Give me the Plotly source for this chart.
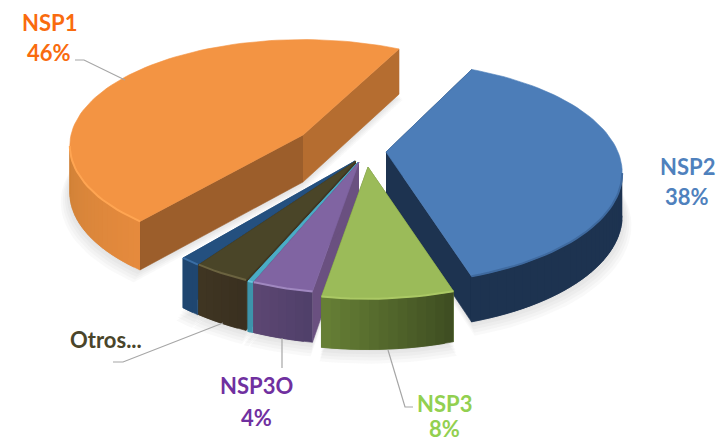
import numpy as np
import plotly.graph_objects as go

# valores, en el orden de los sectores (sentido horario)
categories = ["NSP2", "NSP3", "NSP3O", "Otros A", "Otros...", "Otros B", "NSP1"]
shares = [38.0, 7.5, 3.5, 0.3, 3.3, 1.2, 46.2]

# estilo de cada sector
TOP = ["#4c7db8", "#9bbb59", "#8064a2", "#4bacc6", "#4a4528", "#24507f", "#f39443"]
RIM = ["#3f6a9f", "#abc965", "#a088c0", "#6cc4dc", "#6b6340", "#3a6ea5", "#ffa552"]
WALL_L = ["#1d3350", "#667f35", "#5c4672", "#3d94ab", "#3f3522", "#1f4670", "#e58a3d"]
WALL_R = ["#1d3350", "#3f4e22", "#50406a", "#3d94ab", "#3a3020", "#1f4670", "#d08238"]
# color de las dos paredes interiores (lado inicial, lado final)
SIDE = [("#1d3350", "#1d3350"), ("#5c7530", "#5c7530"), ("#6a5080", "#6a5080"),
        ("#3d94ab", "#3d94ab"), ("#3f3522", "#3f3522"), ("#1f4670", "#1f4670"),
        ("#9c5e2b", "#b56d30")]
APEX = [(386, 152), (368, 167), (359, 162), (358, 162), (356, 161), (355, 161), (303, 135)]
DEPTH = [42, 47, 47, 47, 47, 47, 47]
# el sector NSP1 esta algo girado y con menos perspectiva en el original
TWIST = [0, 0, 0, 0, 0, 0, 1.2]
RY = [107, 107, 107, 107, 107, 107, 105]
PERSP = [0.188, 0.188, 0.188, 0.188, 0.188, 0.188, 0.1]
DRAW_ORDER = [6, 0, 5, 4, 3, 2, 1]

START_ANGLE = 25.6
RX = 232


def disc(theta, i):
    # perspectiva simple de un disco visto desde arriba
    s, c = np.sin(np.radians(theta)), np.cos(np.radians(theta))
    w = 1 + PERSP[i] * c
    return RX * s / w, -RY[i] * c / w, DEPTH[i] - 20 * (w - 1)


def mix(a, b, t):
    ca = [int(a[i:i + 2], 16) for i in (1, 3, 5)]
    cb = [int(b[i:i + 2], 16) for i in (1, 3, 5)]
    return "rgb(%d,%d,%d)" % tuple(round(u + (v - u) * t) for u, v in zip(ca, cb))


fig = go.Figure()


def poly(x, y, color, opacity=1.0, edge=True):
    fig.add_trace(go.Scatter(
        x=list(x), y=list(y), mode="lines", fill="toself", fillcolor=color, opacity=opacity,
        line=dict(color=color, width=0.6 if edge else 0), hoverinfo="skip", showlegend=False))


edges = START_ANGLE + np.cumsum([0] + shares) * 3.6

for i in DRAW_ORDER:
    ax, ay = APEX[i]
    t0, t1 = edges[i] + TWIST[i], edges[i + 1] + TWIST[i]
    thetas = np.linspace(t0, t1, max(3, int((t1 - t0) / 2) + 2))
    dx, dy, dd = np.array([disc(t, i) for t in thetas]).T
    px, py = ax + dx, ay + dy
    apex_d = DEPTH[i]
    # solo se ve la pared exterior que mira al frente
    facing = np.cos(np.radians(thetas)) < -PERSP[i]

    # sombra difusa bajo el sector
    for k in (9, 7, 5, 3, 1):
        f = 1 + k / RX
        sx = [ax] + list(ax + dx * f) + [ax]
        sy = [ay + apex_d + k] + list(ay + dy * f + dd + k) + [ay + apex_d + k]
        poly(sx, sy, "#808080", 0.05, edge=False)

    # paredes interiores
    poly([ax, px[0], px[0], ax], [ay, py[0], py[0] + dd[0], ay + apex_d], SIDE[i][0])
    poly([ax, px[-1], px[-1], ax], [ay, py[-1], py[-1] + dd[-1], ay + apex_d], SIDE[i][1])

    # pared exterior en franjas solapadas, para el degradado
    fx, fy, fd = px[facing], py[facing], dd[facing]
    n = len(fx)
    for j in range(n - 1):
        t = 1 - j / max(1, n - 2)
        if i == 6:
            t = j / max(1, n - 2)
        k = min(j + 2, n - 1)
        poly([fx[j], fx[k], fx[k], fx[j]],
             [fy[j], fy[k], fy[k] + fd[k], fy[j] + fd[j]],
             mix(WALL_L[i], WALL_R[i], t))

    # cara superior y canto claro
    poly([ax] + list(px) + [ax], [ay] + list(py) + [ay], TOP[i])
    fig.add_trace(go.Scatter(
        x=fx, y=fy, mode="lines", line=dict(color=RIM[i], width=2),
        hoverinfo="skip", showlegend=False))

# lineas guia
LEADERS = [
    ([75, 84, 125], [60, 60, 80]),
    ([388, 405, 413], [350, 407, 407]),
    ([282, 282], [338, 368]),
    ([223, 123, 113], [323, 362, 362]),
]
for lx, ly in LEADERS:
    fig.add_trace(go.Scatter(
        x=lx, y=ly, mode="lines", line=dict(color="#a6a6a6", width=1.2),
        hoverinfo="skip", showlegend=False))

# etiquetas
LABELS = [
    ("NSP1", 49, 22, "#f96b0e"), ("46%", 49, 52, "#f96b0e"),
    ("NSP2", 687, 166, "#4f81bd"), ("38%", 687, 196, "#4f81bd"),
    ("NSP3", 444, 403, "#92d050"), ("8%", 444, 428, "#92d050"),
    ("NSP3O", 256, 385, "#7030a0"), ("4%", 256, 417, "#7030a0"),
    ("Otros...", 106, 339, "#4a452a"),
]
for text, x, y, color in LABELS:
    fig.add_annotation(x=x, y=y, text=text, showarrow=False, xref="x", yref="y",
                       font=dict(family="Lato", size=22, color=color, weight="bold"))

fig.update_layout(
    width=726, height=443, margin=dict(l=0, r=0, t=0, b=0),
    paper_bgcolor="white", plot_bgcolor="white", showlegend=False,
    xaxis=dict(range=[0, 726], visible=False, fixedrange=True),
    yaxis=dict(range=[443, 0], visible=False, fixedrange=True),
)
fig.write_html("out.html", config=dict(displayModeBar=False),
               post_script="document.body.style.margin='0';")
